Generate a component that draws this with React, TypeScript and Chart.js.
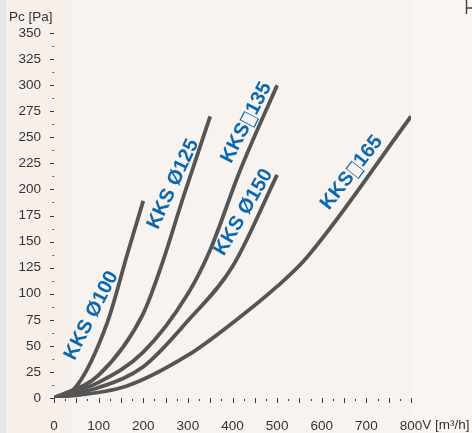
import React, { useEffect, useRef } from "react";
import { Chart, registerables } from "chart.js";

Chart.register(...registerables);

// ---- data (V [m³/h] vs Pc [Pa]) ----
const seriesNames = ["KKS Ø100", "KKS Ø125", "KKS\u25A1135", "KKS Ø150", "KKS\u25A1165"];

const flow100 = [0, 50, 120, 165, 200];
const pres100 = [0, 11, 73, 139, 189];

const flow125 = [0, 100, 200, 240, 290, 350];
const pres125 = [0, 22, 81, 126, 193, 270];

const flow135 = [0, 100, 200, 300, 350, 415, 500];
const pres135 = [0, 15, 44, 100, 142, 216, 300];

const flow150 = [0, 100, 200, 300, 400, 500];
const pres150 = [0, 10, 30, 74, 126, 214];

const flow165 = [0, 160, 300, 400, 500, 565, 800];
const pres165 = [0, 11, 41, 72, 107, 134, 270];

const xTickValues = [0, 100, 200, 300, 400, 500, 600, 700, 800];
const yTickValues = [0, 25, 50, 75, 100, 125, 150, 175, 200, 225, 250, 275, 300, 325, 350];

// label anchors in data units (x, y) and rotation angles
const labelAnchors = [
  { x: 84, y: 79, angle: -63 },
  { x: 267, y: 205, angle: -65 },
  { x: 431, y: 264, angle: -62.5 },
  { x: 425, y: 178, angle: -59.5 },
  { x: 667, y: 216, angle: -52 },
];

const FONT = "'Liberation Sans', Arial, sans-serif";
const SQ_FONT = "'DejaVu Sans', sans-serif";
const SQ_SCALE = 0.6;

const pair = (xs: number[], ys: number[]) => xs.map((x, i) => ({ x, y: ys[i] }));

function drawLabel(ctx: CanvasRenderingContext2D, text: string) {
  // split so the square glyph is drawn narrow and cap-height tall
  const parts: { t: string; sq: boolean }[] = [];
  for (const ch of text) {
    const sq = ch === "\u25A1";
    if (parts.length && parts[parts.length - 1].sq === sq) parts[parts.length - 1].t += ch;
    else parts.push({ t: ch, sq });
  }
  const widthOf = (p: { t: string; sq: boolean }) => {
    ctx.font = p.sq ? `bold 22px ${SQ_FONT}` : `bold 20px ${FONT}`;
    return ctx.measureText(p.t).width * (p.sq ? SQ_SCALE : 1);
  };
  const total = parts.reduce((s, p) => s + widthOf(p), 0);
  let x = -total / 2;
  ctx.textAlign = "left";
  parts.forEach((p) => {
    const w = widthOf(p);
    if (p.sq) {
      ctx.save();
      ctx.translate(x, 1);
      ctx.scale(SQ_SCALE, 1);
      ctx.fillText(p.t, 0, 0);
      ctx.restore();
    } else {
      ctx.fillText(p.t, x, 0);
    }
    x += w;
  });
}

const decorPlugin = {
  id: "decor",
  beforeDraw(chart: any) {
    const { ctx, width, height, chartArea } = chart;
    ctx.save();
    ctx.fillStyle = "#f8f3ef";
    ctx.fillRect(0, 0, width, height);
    ctx.fillStyle = "#faf6f3";
    ctx.fillRect(chartArea.right + 1, 0, width - chartArea.right, height);
    ctx.fillStyle = "#f7efea";
    ctx.fillRect(0, 0, 72, height);
    ctx.fillStyle = "#e6e6e6";
    ctx.fillRect(0, 0, 6, height);
    // small mark at top right
    ctx.strokeStyle = "#444";
    ctx.lineWidth = 1.5;
    ctx.beginPath();
    ctx.moveTo(466.5, 0);
    ctx.lineTo(466.5, 14);
    ctx.moveTo(466.5, 8);
    ctx.lineTo(472, 8);
    ctx.stroke();
    ctx.restore();
  },
  afterDraw(chart: any) {
    const { ctx, scales } = chart;
    const xs = scales.x;
    const ys = scales.y;
    const x0 = xs.getPixelForValue(0);
    const y0 = ys.getPixelForValue(0);
    ctx.save();
    ctx.fillStyle = "#3c3c3c";
    // y ticks
    for (let v = 0; v <= 350; v += 12.5) {
      const py = Math.round(ys.getPixelForValue(v));
      if (v % 25 === 0) ctx.fillRect(x0 - 4, py, 4, 1);
      else ctx.fillRect(x0 - 1.5, py, 1.5, 1);
    }
    // x ticks
    for (let v = 0; v <= 800; v += 25) {
      const px = Math.round(xs.getPixelForValue(v));
      if (v % 50 === 0) ctx.fillRect(px, y0, 1, 5);
      else ctx.fillRect(px, y0 + 1, 1, 2);
    }
    // axis titles
    ctx.fillStyle = "#333";
    ctx.font = `13.5px ${FONT}`;
    ctx.textBaseline = "middle";
    ctx.textAlign = "left";
    ctx.fillText("Pc [Pa]", 9, 17);
    const w800 = ctx.measureText("800").width;
    ctx.fillText("V [m\u00B3/h]", xs.getPixelForValue(800) + w800 / 2, 425);
    // series labels
    ctx.fillStyle = "#0a68b2";
    labelAnchors.forEach((a, i) => {
      const px = xs.getPixelForValue(a.x);
      const py = ys.getPixelForValue(a.y);
      ctx.save();
      ctx.translate(px, py);
      ctx.rotate((a.angle * Math.PI) / 180);
      drawLabel(ctx, seriesNames[i]);
      ctx.restore();
    });
    ctx.restore();
  },
};

export default function App() {
  const ref = useRef<HTMLCanvasElement | null>(null);
  useEffect(() => {
    if (!ref.current) return;
    const lineStyle = {
      borderColor: "#555555",
      borderWidth: 3.8,
      pointRadius: 0,
      cubicInterpolationMode: "monotone" as const,
      fill: false,
      borderJoinStyle: "round" as const,
    };
    const chart = new Chart(ref.current, {
      type: "line",
      data: {
        datasets: [
          { label: seriesNames[0], data: pair(flow100, pres100), ...lineStyle },
          { label: seriesNames[1], data: pair(flow125, pres125), ...lineStyle },
          { label: seriesNames[2], data: pair(flow135, pres135), ...lineStyle },
          { label: seriesNames[3], data: pair(flow150, pres150), ...lineStyle },
          { label: seriesNames[4], data: pair(flow165, pres165), ...lineStyle },
        ],
      },
      options: {
        animation: false,
        responsive: false,
        maintainAspectRatio: false,
        layout: { padding: { left: 0, right: 61, top: 33, bottom: 0 } },
        plugins: { legend: { display: false }, tooltip: { enabled: false } },
        scales: {
          x: {
            type: "linear",
            min: 0,
            max: 800,
            afterFit: (s: any) => {
              s.height = 35;
            },
            afterBuildTicks: (s: any) => {
              s.ticks = xTickValues.map((v) => ({ value: v }));
            },
            grid: { display: false, drawTicks: false },
            border: { display: false },
            ticks: {
              autoSkip: false,
              maxRotation: 0,
              padding: 20,
              color: "#333",
              font: { family: FONT, size: 13.5 },
            },
          },
          y: {
            type: "linear",
            min: 0,
            max: 350,
            afterFit: (s: any) => {
              s.width = 54;
            },
            afterBuildTicks: (s: any) => {
              s.ticks = yTickValues.map((v) => ({ value: v }));
            },
            grid: { display: false, drawTicks: false },
            border: { display: false },
            ticks: {
              autoSkip: false,
              padding: 13,
              color: "#333",
              font: { family: FONT, size: 13.5 },
            },
          },
        },
      },
      plugins: [decorPlugin],
    });
    return () => chart.destroy();
  }, []);
  return (
    <div style={{ position: "fixed", left: 0, top: 0, width: 472, height: 433 }}>
      <canvas ref={ref} width={472} height={433} style={{ display: "block" }} />
    </div>
  );
}
